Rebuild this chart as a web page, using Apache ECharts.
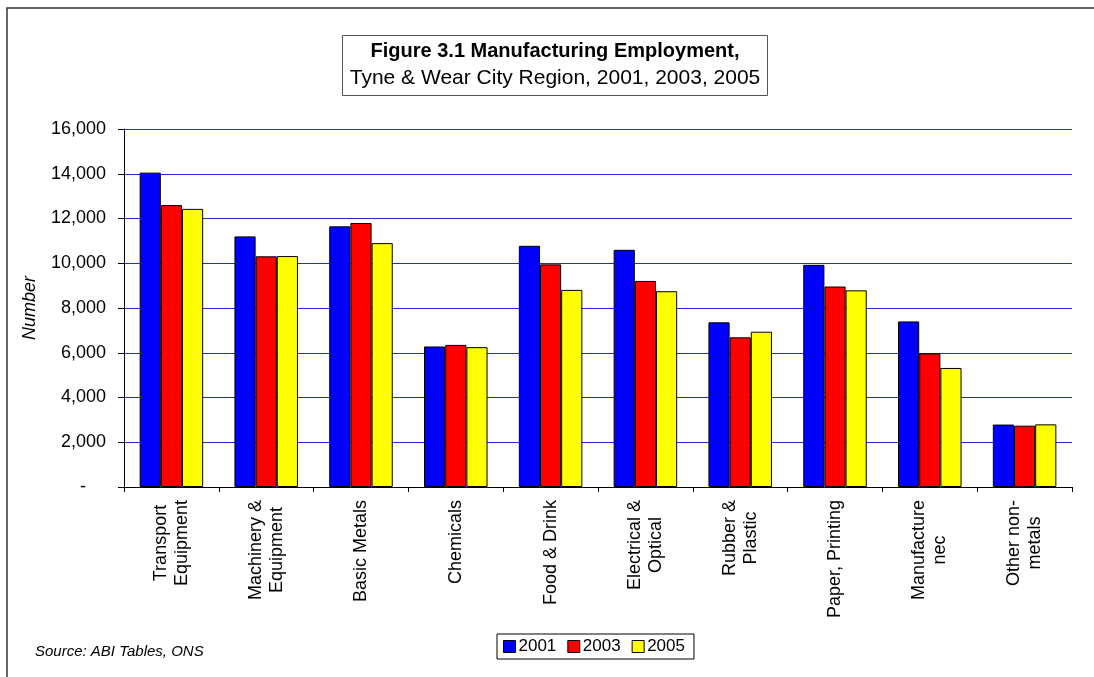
<!DOCTYPE html>
<html>
<head>
<meta charset="utf-8">
<script src="https://cdn.jsdelivr.net/npm/echarts@6/dist/echarts.min.js"></script>
<style>
html,body{margin:0;padding:0;background:#fff;}
#chart{width:1094px;height:677px;}
</style>
</head>
<body>
<div id="chart"></div>
<script>
var categories = ['Transport\nEquipment', 'Machinery &\nEquipment', 'Basic Metals', 'Chemicals', 'Food & Drink', 'Electrical &\nOptical', 'Rubber &\nPlastic', 'Paper, Printing', 'Manufacture\nnec', 'Other non-\nmetals'];
var years = ['2001', '2003', '2005'];
var values2001 = [14050, 11200, 11650, 6280, 10780, 10600, 7360, 9930, 7400, 2790];
var values2003 = [12600, 10310, 11800, 6350, 9950, 9210, 6690, 8960, 5970, 2740];
var values2005 = [12430, 10320, 10900, 6250, 8810, 8750, 6940, 8790, 5320, 2800];
var yTicks = [0, 2000, 4000, 6000, 8000, 10000, 12000, 14000, 16000];

var FONT = 'Liberation Sans, Arial, Helvetica, sans-serif';
var colors = ['#0000ff', '#ff0000', '#ffff00'];
var seriesValues = [values2001, values2003, values2005];

var chart = echarts.init(document.getElementById('chart'));
var option = {
  animation: false,
  backgroundColor: '#fff',
  textStyle: { fontFamily: FONT, color: '#000' },
  title: {
    text: 'Figure 3.1 Manufacturing Employment,',
    subtext: 'Tyne & Wear City Region, 2001, 2003, 2005',
    left: 548,
    top: 35,
    textAlign: 'center',
    padding: [4, 7, 6, 7],
    itemGap: 3,
    borderColor: '#555',
    borderWidth: 1,
    textStyle: { fontFamily: FONT, fontSize: 20, fontWeight: 'bold', color: '#000', lineHeight: 24 },
    subtextStyle: { fontFamily: FONT, fontSize: 21, color: '#000', lineHeight: 24 }
  },
  legend: {
    data: years,
    left: 497,
    top: 634,
    orient: 'horizontal',
    icon: 'rect',
    itemWidth: 12,
    itemHeight: 12,
    itemGap: 11,
    padding: [4, 9, 4, 6],
    borderColor: '#000',
    borderWidth: 1,
    itemStyle: { borderColor: '#000', borderWidth: 1 },
    textStyle: { fontFamily: FONT, fontSize: 17, color: '#000', padding: [0, 0, 0, -2] }
  },
  grid: { left: 124, right: 22, top: 129, bottom: 190, containLabel: false },
  xAxis: {
    type: 'category',
    data: categories,
    axisLine: { lineStyle: { color: '#000', width: 1 } },
    axisTick: { show: true, length: 5, lineStyle: { color: '#000' } },
    axisLabel: {
      interval: 0,
      rotate: 90,
      margin: 13,
      fontFamily: FONT,
      fontSize: 18,
      color: '#000',
      formatter: function (v) { return '{c|' + v + '}'; },
      rich: { c: { align: 'center', fontFamily: FONT, fontSize: 18, color: '#000', lineHeight: 21 } }
    },
    splitLine: { show: false }
  },
  yAxis: {
    type: 'value',
    min: 0,
    max: 16000,
    interval: 2000,
    name: 'Number',
    nameLocation: 'middle',
    nameGap: 85,
    nameTextStyle: { fontFamily: FONT, fontSize: 18, fontStyle: 'italic', color: '#000' },
    axisLine: { show: true, lineStyle: { color: '#000', width: 1 } },
    axisTick: { show: true, length: 6, lineStyle: { color: '#000' } },
    axisLabel: {
      margin: 18,
      fontFamily: FONT,
      fontSize: 18,
      color: '#000',
      formatter: function (v) {
        if (v === 0) return '-    ';
        return v.toLocaleString('en-US');
      }
    },
    splitLine: {
      show: true,
      lineStyle: { color: '#2626e8', width: 1 }
    }
  },
  series: years.map(function (y, i) {
    return {
      name: y,
      type: 'bar',
      data: seriesValues[i],
      barGap: '0%',
      barCategoryGap: '33%',
      itemStyle: { color: colors[i], borderColor: '#000', borderWidth: 1 }
    };
  }),
  graphic: [
    {
      type: 'rect',
      shape: { x: 7, y: 8, width: 1200, height: 800 },
      style: { fill: null, stroke: '#333', lineWidth: 1.5 },
      silent: true, z: -1
    },
    {
      type: 'text',
      left: 35, top: 644,
      style: { text: 'Source: ABI Tables, ONS', fontFamily: FONT, fontSize: 15, fontStyle: 'italic', fill: '#000' }
    }
  ]
};
chart.setOption(option);
</script>
</body>
</html>
